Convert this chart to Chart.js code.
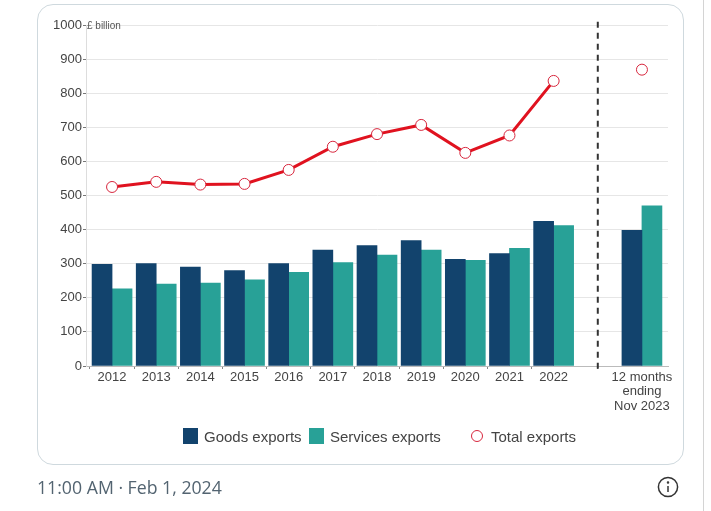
<!DOCTYPE HTML>
<html>

<head>
  <meta charset="utf-8" />
  <script src="https://cdn.jsdelivr.net/npm/chart.js@4"></script>
  <style>
    html, body {
      margin: 0;
      width: 711px;
      height: 511px;
      overflow: hidden;
      background: #fff;
      font-family: 'Liberation Sans', Arial, sans-serif;
    }

    #chart-wrap {
      position: absolute;
      left: 0;
      top: 0;
      width: 711px;
      height: 511px;
    }

    .card {
      position: absolute;
      left: 37px;
      top: 4px;
      width: 645px;
      height: 459px;
      border: 1px solid #cfd9de;
      border-radius: 16px;
    }

    .edge {
      position: absolute;
      left: 703px;
      top: 0;
      width: 1px;
      height: 511px;
      background: #d4d4d4;
    }

    .unit {
      position: absolute;
      left: 87px;
      top: 20px;
      font-size: 10px;
      color: #555;
    }

    .legend span {
      position: absolute;
      top: 428px;
      font-size: 15px;
      line-height: 17px;
      color: #444;
      white-space: nowrap;
    }

    .legend i {
      position: absolute;
      top: 428px;
      width: 15px;
      height: 16px;
    }

    .legend i.total {
      top: 430px;
      width: 10px;
      height: 10px;
      border: 1.5px solid #d7263d;
      border-radius: 50%;
    }

    .stamp {
      position: absolute;
      left: 37px;
      top: 477px;
      font-family: 'Open Sans', sans-serif;
      font-size: 17.7px;
      line-height: 21px;
      color: #536471;
      white-space: nowrap;
    }

    .info {
      position: absolute;
      left: 656px;
      top: 475px;
    }
  </style>
</head>

<body>
  <div class="card"></div>
  <div class="edge"></div>
  <div id="chart-wrap"><canvas id="chart-exports"></canvas></div>
  <div class="unit">£ billion</div>
  <div class="legend">
    <i style="left:183px;background:#12436d"></i><span style="left:204px">Goods exports</span>
    <i style="left:309px;background:#28a197"></i><span style="left:330px">Services exports</span>
    <i class="total" style="left:471px"></i><span style="left:491px">Total exports</span>
  </div>
  <div class="stamp">11:00 AM · Feb 1, 2024</div>
  <svg class="info" width="24" height="24" viewBox="0 0 24 24" fill="none" stroke="#333" stroke-width="1.5">
    <circle cx="12" cy="12" r="9.6"></circle>
    <path d="M12 11v6"></path>
    <circle cx="12" cy="7.6" r="0.5" fill="#333"></circle>
  </svg>
</body>
<script>
  // x positions: 11 is the empty slot holding the dashed divider
  var positions = [0, 1, 2, 3, 4, 5, 6, 7, 8, 9, 10, 12];
  var tickLabels = ['2012', '2013', '2014', '2015', '2016', '2017', '2018', '2019', '2020', '2021', '2022',
    ['12 months', 'ending', 'Nov 2023']];

  var goods = [298, 300, 290, 280, 300, 340, 353, 368, 313, 330, 424, 398];
  var services = [226, 240, 243, 253, 275, 303, 325, 340, 310, 345, 412, 470];
  var total = [525, 540, 532, 534, 575, 643, 680, 707, 625, 676, 836, 869];

  var dividerX = 11;
  var dividerY = [-8, 1020];

  function toPoints(values) {
    return values.map(function (v, i) {
      return { x: positions[i], y: v };
    });
  }

  // the last point stands alone, so the line stops at 2022
  var totalPoints = toPoints(total);
  totalPoints.splice(11, 0, { x: dividerX, y: null });

  var tickFont = { family: "'Liberation Sans', Arial, sans-serif", size: 13, lineHeight: 1.12 };

  new Chart(document.getElementById('chart-exports'), {
    data: {
      datasets: [
        {
          type: 'line',
          data: totalPoints,
          borderColor: '#e0121f',
          borderWidth: 3,
          pointRadius: 5.5,
          pointBorderWidth: 1,
          pointBackgroundColor: '#fff',
          pointBorderColor: '#d7263d',
          tension: 0,
          spanGaps: false,
          order: 1
        },
        {
          type: 'line',
          data: dividerY.map(function (y) { return { x: dividerX, y: y }; }),
          borderColor: '#333',
          borderWidth: 2,
          borderDash: [6, 5],
          pointRadius: 0,
          clip: false,
          order: 2
        },
        {
          type: 'bar',
          data: toPoints(goods),
          backgroundColor: '#12436d',
          barThickness: 20,
          order: 3
        },
        {
          type: 'bar',
          data: toPoints(services),
          backgroundColor: '#28a197',
          barThickness: 20,
          order: 3
        }
      ]
    },
    options: {
      responsive: true,
      maintainAspectRatio: false,
      animation: false,
      layout: {
        padding: { left: 0, right: 43, top: 25, bottom: 92 }
      },
      scales: {
        x: {
          type: 'linear',
          offset: false,
          min: -0.59,
          max: 12.59,
          grid: { drawOnChartArea: false, tickColor: '#888', tickLength: 3 },
          border: { color: '#bbb' },
          afterBuildTicks: function (axis) {
            axis.ticks = positions.map(function (p) { return { value: p }; });
          },
          afterFit: function (axis) {
            axis.height = 53;
          },
          ticks: {
            autoSkip: false,
            maxRotation: 0,
            padding: 1,
            color: '#444',
            font: tickFont,
            callback: function (value) {
              return tickLabels[positions.indexOf(value)];
            }
          }
        },
        y: {
          min: 0,
          max: 1000,
          grid: { color: '#e6e6e6', lineWidth: 1, tickColor: '#777', tickLength: 3 },
          border: { color: '#ddd' },
          afterFit: function (axis) {
            axis.width = 86;
          },
          ticks: {
            stepSize: 100,
            padding: 1,
            color: '#444',
            font: tickFont,
            callback: function (value) {
              return String(value);
            }
          }
        }
      },
      plugins: {
        legend: { display: false },
        tooltip: { enabled: false }
      }
    }
  });
</script>

</html>
